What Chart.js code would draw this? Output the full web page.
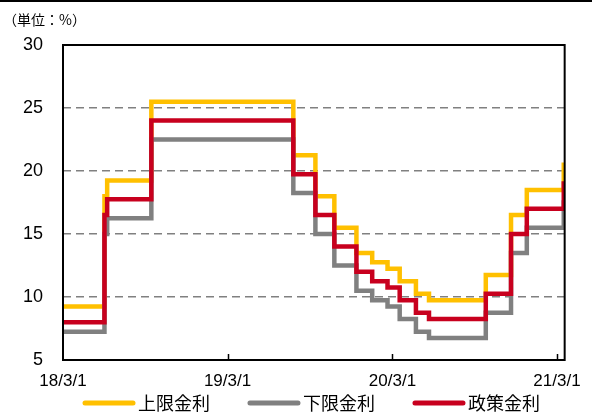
<!DOCTYPE html>
<html>
<head>
<meta charset="utf-8">
<script src="https://cdn.jsdelivr.net/npm/chart.js@4.4.0/dist/chart.umd.min.js"></script>
<style>
  html, body { margin: 0; padding: 0; background: #fff; }
  #wrap { position: relative; width: 592px; height: 414px; }
  #unit { position: absolute; left: 3px; top: 9px; font: 14px 'Noto Sans CJK JP'; color: #000; }
</style>
</head>
<body>
<div id="wrap">
  <canvas id="rateChart" width="592" height="414"></canvas>
  <div id="unit">（単位：%）</div>
</div>
<script>
'use strict'

// dates where a rate changed (first one is the start of the axis)
const changeDates = ['2018-03-01', '2018-06-01', '2018-06-07', '2018-09-13', '2019-07-25', '2019-09-12',
  '2019-10-24', '2019-12-12', '2020-01-16', '2020-02-19', '2020-03-17', '2020-04-22', '2020-05-21',
  '2020-09-24', '2020-11-19', '2020-12-24', '2021-03-16']
const upperRate = [9.25, 18.0, 19.25, 25.5, 21.25, 18.0, 15.5, 13.5, 12.75, 12.25, 11.25, 10.25, 9.75, 11.75, 16.5, 18.5, 20.5]
const lowerRate = [7.25, 15.0, 16.25, 22.5, 18.25, 15.0, 12.5, 10.5, 9.75, 9.25, 8.25, 7.25, 6.75, 8.75, 13.5, 15.5, 17.5]
const policyRate = [8.0, 16.5, 17.75, 24.0, 19.75, 16.5, 14.0, 12.0, 11.25, 10.75, 9.75, 8.75, 8.25, 10.25, 15.0, 17.0, 19.0]
const endDate = '2021-03-18'

const tickDates = ['2018-03-01', '2019-03-01', '2020-03-01', '2021-03-01']
const tickLabels = ['18/3/1', '19/3/1', '20/3/1', '21/3/1']
const seriesNames = ['上限金利', '下限金利', '政策金利']
const seriesColors = ['#FFC000', '#808080', '#C8001E']

const toDay = (d) => (Date.parse(d) - Date.parse(changeDates[0])) / 86400000

const toPoints = (values) => {
  const pts = changeDates.map((d, i) => ({ x: toDay(d), y: values[i] }))
  pts.push({ x: toDay(endDate), y: values[values.length - 1] })
  return pts
}

const makeSet = (i, values, order) => ({
  label: seriesNames[i],
  data: toPoints(values),
  borderColor: seriesColors[i],
  backgroundColor: seriesColors[i],
  borderWidth: 4.5,
  stepped: true,
  pointRadius: 0,
  borderJoinStyle: 'miter',
  order: order
})

const framePlugin = {
  id: 'frame',
  beforeDraw (chart) {
    const ctx = chart.ctx
    ctx.save()
    ctx.fillStyle = '#000'
    ctx.fillRect(0, 0, chart.width, 2)
    ctx.restore()
  },
  afterDraw (chart) {
    const { ctx, chartArea: a, scales } = chart
    ctx.save()
    ctx.setLineDash([])
    ctx.strokeStyle = '#000'
    ctx.lineWidth = 2
    ctx.strokeRect(a.left, a.top, a.right - a.left, a.bottom - a.top)

    // little x ticks pointing up into the plot
    ctx.lineWidth = 1.5
    ctx.beginPath()
    tickDates.slice(1).forEach((d) => {
      const x = Math.round(scales.x.getPixelForValue(toDay(d))) + 0.5
      ctx.moveTo(x, a.bottom)
      ctx.lineTo(x, a.bottom - 6)
    })
    ctx.stroke()

    // legend
    ctx.font = "18px 'Noto Sans CJK JP'"
    ctx.textBaseline = 'middle'
    const y = 403
    let x = 83
    seriesNames.forEach((name, i) => {
      ctx.strokeStyle = seriesColors[i]
      ctx.lineWidth = 5
      ctx.lineCap = 'round'
      ctx.beginPath()
      ctx.moveTo(x + 2, y)
      ctx.lineTo(x + 50, y)
      ctx.stroke()
      ctx.fillStyle = '#000'
      ctx.fillText(name, x + 55, y)
      x += 55 + ctx.measureText(name).width + 38
    })
    ctx.restore()
  }
}

const ctx = document.getElementById('rateChart')
const rateChart = new Chart(ctx, {
  type: 'line',
  data: {
    datasets: [
      makeSet(0, upperRate, 2),
      makeSet(1, lowerRate, 1),
      makeSet(2, policyRate, 0)
    ]
  },
  options: {
    responsive: false,
    animation: false,
    layout: { padding: { top: 45, right: 24, bottom: 24, left: 0 } },
    plugins: {
      legend: { display: false },
      tooltip: { enabled: false }
    },
    scales: {
      x: {
        type: 'linear',
        min: 0,
        max: toDay(endDate),
        afterFit: (scale) => { scale.height = 30 },
        afterBuildTicks: (scale) => {
          scale.ticks = tickDates.map((d) => ({ value: toDay(d) }))
        },
        grid: { display: false, drawTicks: false },
        border: { display: false },
        ticks: {
          autoSkip: false,
          maxRotation: 0,
          padding: 11,
          color: '#000',
          font: { family: 'Liberation Sans', size: 17 },
          callback: (value, index) => tickLabels[index]
        }
      },
      y: {
        min: 5,
        max: 30,
        afterFit: (scale) => { scale.width = 63 },
        grid: { color: '#808080', lineWidth: 1.5, drawTicks: false, borderDash: [8, 5] },
        border: { display: false, dash: [8, 5] },
        ticks: {
          stepSize: 5,
          padding: 20,
          color: '#000',
          font: { family: 'Liberation Sans', size: 18 }
        }
      }
    }
  },
  plugins: [framePlugin]
})
</script>
</body>
</html>
